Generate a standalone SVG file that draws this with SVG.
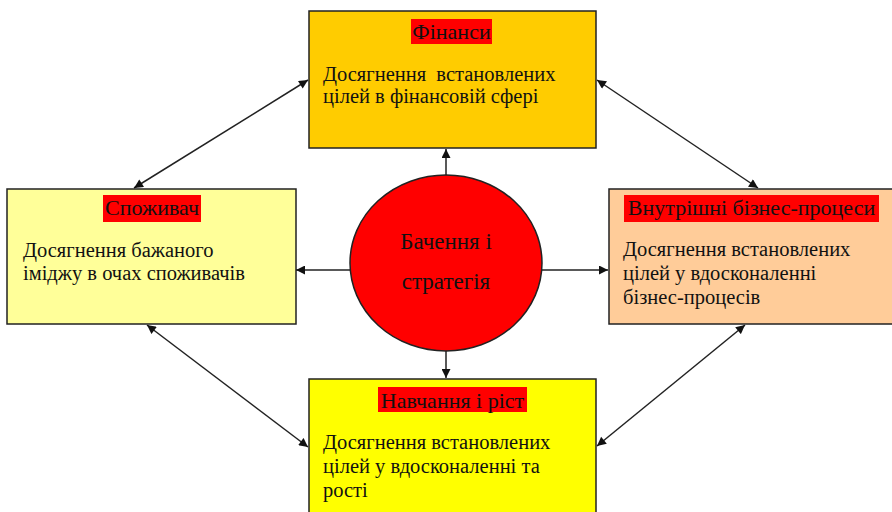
<svg xmlns="http://www.w3.org/2000/svg" width="892" height="512" viewBox="0 0 892 512">
<defs>
<style>
.box{stroke:#222;stroke-width:1.5}
.t{font-family:"Liberation Serif","Times New Roman",serif;font-size:20.5px;fill:#111}
.h{font-size:22px}
.v{font-size:23px}
.c{text-anchor:middle}
.hl{fill:#FF0000}
.ln{stroke:#222;stroke-width:1.5;fill:none}
</style>
<marker id="ah" viewBox="0 0 10 10" refX="10" refY="5" markerWidth="11" markerHeight="9" orient="auto-start-reverse" markerUnits="userSpaceOnUse">
<path d="M0,0 L10,5 L0,10 z" fill="#111"/>
</marker>
</defs>
<rect width="892" height="512" fill="#fff"/>
<g id="connectors">
<line class="ln" x1="446" y1="175" x2="446" y2="149" marker-end="url(#ah)"/>
<line class="ln" x1="446" y1="351" x2="446" y2="378" marker-end="url(#ah)"/>
<line class="ln" x1="350" y1="270" x2="296" y2="270" marker-end="url(#ah)"/>
<line class="ln" x1="542" y1="270" x2="608" y2="270" marker-end="url(#ah)"/>
<line class="ln" x1="134" y1="188" x2="308" y2="80" marker-start="url(#ah)" marker-end="url(#ah)"/>
<line class="ln" x1="597" y1="80" x2="758" y2="188" marker-start="url(#ah)" marker-end="url(#ah)"/>
<line class="ln" x1="147" y1="325" x2="308" y2="447" marker-start="url(#ah)" marker-end="url(#ah)"/>
<line class="ln" x1="745" y1="325" x2="597" y2="446" marker-start="url(#ah)" marker-end="url(#ah)"/>
</g>
<g id="finance">
<rect class="box" x="309" y="11" width="287" height="137" fill="#FFCC00"/>
<rect class="hl" x="411" y="19" width="81" height="25"/>
<text class="t h c" x="451.5" y="39">Фінанси</text>
<text class="t" x="323" y="81" xml:space="preserve">Досягнення  встановлених</text>
<text class="t" x="323" y="103">цілей в фінансовій сфері</text>
</g>
<g id="consumer">
<rect class="box" x="7" y="189" width="289" height="135" fill="#FFFF99"/>
<rect class="hl" x="103" y="195" width="98" height="27"/>
<text class="t h c" x="152" y="215">Споживач</text>
<text class="t" x="23" y="257">Досягнення бажаного</text>
<text class="t" x="23" y="280">іміджу в очах споживачів</text>
</g>
<g id="processes">
<rect class="box" x="609" y="189" width="290" height="135" fill="#FFCC99"/>
<rect class="hl" x="624" y="195" width="255" height="27"/>
<text class="t h c" x="751.5" y="215">Внутрішні бізнес-процеси</text>
<text class="t" x="623" y="256">Досягнення встановлених</text>
<text class="t" x="623" y="280">цілей у вдосконаленні</text>
<text class="t" x="623" y="304">бізнес-процесів</text>
</g>
<g id="learning">
<rect class="box" x="309" y="379" width="287" height="140" fill="#FFFF00"/>
<rect class="hl" x="378" y="387" width="149" height="25"/>
<text class="t h c" x="452.5" y="408">Навчання і ріст</text>
<text class="t" x="323" y="449">Досягнення встановлених</text>
<text class="t" x="323" y="473">цілей у вдосконаленні та</text>
<text class="t" x="323" y="497">рості</text>
</g>
<g id="vision">
<ellipse cx="446" cy="263" rx="96" ry="88" fill="#FF0000" stroke="#222" stroke-width="1.5"/>
<text class="t v c" x="446" y="249">Бачення і</text>
<text class="t v c" x="446" y="289">стратегія</text>
</g>
</svg>
